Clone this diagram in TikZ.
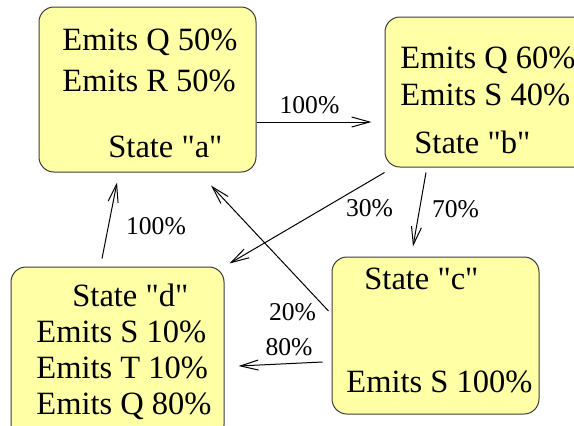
\documentclass[tikz,border=0pt]{standalone}
\usepackage{fontspec}
\setmainfont{Liberation Serif}[Ligatures=TeXOff]
\usetikzlibrary{arrows.meta}
\definecolor{statefill}{HTML}{FFFFA6}
\definecolor{stateline}{HTML}{3C3C3C}

\begin{document}
\begin{tikzpicture}[
  x=0.5pt, y=-0.5pt,
  state/.style={
    draw=stateline,
    fill=statefill,
    rounded corners=7.5pt,
    line width=0.5pt,
    inner sep=0pt
  },
  emit/.style={
    anchor=base west,
    inner sep=0pt,
    font=\fontsize{16.25}{19}\selectfont
  },
  prob/.style={
    anchor=base,
    inner sep=0pt,
    font=\fontsize{12.8}{15}\selectfont
  },
  link/.style={
    -{Straight Barb[length=9pt,width=5pt]},
    line width=0.5pt
  }
]
\clip (0,0) rectangle (574,425);
\useasboundingbox (0,0) rectangle (574,425);

% States
\node[state, minimum width=108.5pt, minimum height=82.5pt] (a) at (147.5,89.5) {};
\node[state, minimum width=102.5pt, minimum height=75pt] (b) at (487.5,92) {};
\node[state, minimum width=103.5pt, minimum height=78.5pt] (c) at (435.5,335.5) {};
\node[state, minimum width=106.5pt, minimum height=86.5pt] (d) at (117.5,353.5) {};

% State texts
\node[emit] (aq) at (62,50) {Emits Q 50\%};
\node[emit] (ar) at (62,91) {Emits R 50\%};
\node[emit] (an) at (108,157) {State "a"};

\node[emit] (bq) at (400,68) {Emits Q 60\%};
\node[emit] (bs) at (400,105) {Emits S 40\%};
\node[emit] (bn) at (414,153) {State "b"};

\node[emit] (cn) at (364,289) {State "c"};
\node[emit] (cs) at (346,392) {Emits S 100\%};

\node[emit] (dn) at (72,306) {State "d"};
\node[emit] (ds) at (36,342) {Emits S 10\%};
\node[emit] (dt) at (36,378) {Emits T 10\%};
\node[emit] (dq) at (36,414) {Emits Q 80\%};

% Transitions
\draw[link] ([yshift=-16.25pt]a.east) -- ([xshift=-6.5pt,yshift=-15pt]b.west);
\draw[link] ([xshift=-30.75pt,yshift=-2.5pt]b.south) -- ([xshift=-11.25pt,yshift=5pt]c.north);
\draw[link] ([yshift=-2.5pt]b.south west) -- ([xshift=2.5pt,yshift=1.5pt]d.north east);
\draw[link] ([xshift=-1.5pt,yshift=12.25pt]c.west) -- ([xshift=31.75pt,yshift=-6.5pt]a.south);
\draw[link] ([xshift=-4.5pt,yshift=-13.25pt]c.west) -- ([xshift=7pt,yshift=-6.25pt]d.east);
\draw[link] ([xshift=-7.75pt,yshift=4pt]d.north) -- ([xshift=-15.25pt,yshift=-5pt]a.south);

% Probabilities
\node[prob] (pab) at (309.5,113) {100\%};
\node[prob] (pbc) at (455.5,217) {70\%};
\node[prob] (pbd) at (369.5,216) {30\%};
\node[prob] (pca) at (292.5,320) {20\%};
\node[prob] (pcd) at (289,355) {80\%};
\node[prob] (pda) at (156,234) {100\%};

\end{tikzpicture}
\end{document}
